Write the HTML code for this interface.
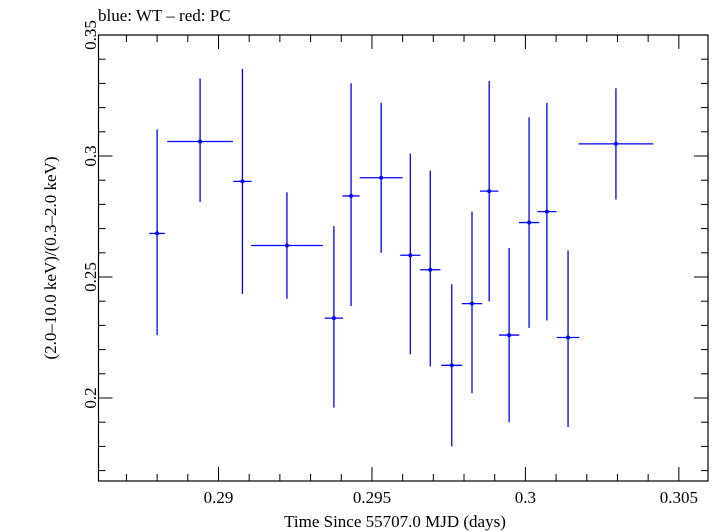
<!DOCTYPE html>
<html><head><meta charset="utf-8"><style>
body{margin:0;background:#fff;}
svg{display:block;font-family:"Liberation Serif",serif;}
</style></head><body>
<svg id="chart" width="717" height="532" viewBox="0 0 717 532">
<text x="98" y="21" font-size="17">blue: WT – red: PC</text>
<rect x="98.5" y="35" width="609.5" height="446" fill="none" stroke="#000" stroke-width="1.2"/>
<g id="ticks"></g>
<g id="marks"></g>
<text x="395" y="527" font-size="17" text-anchor="middle">Time Since 55707.0 MJD (days)</text>
<text transform="translate(56,258) rotate(-90)" font-size="17" text-anchor="middle">(2.0–10.0 keV)/(0.3–2.0 keV)</text>
</svg>
<script>
const times=[0.2880,0.2894,0.29078,0.29223,0.29376,0.29432,0.2953,0.29625,0.2969,0.2976,0.29826,0.29882,0.29947,0.30012,0.3007,0.30139,0.30295];
const timeErr=[0.00025,0.00107,0.0003,0.00117,0.0003,0.00028,0.0007,0.00033,0.00033,0.00034,0.00033,0.0003,0.00033,0.00033,0.00031,0.00037,0.00122];
const ratios=[0.268,0.306,0.2895,0.263,0.233,0.2835,0.291,0.259,0.253,0.2135,0.239,0.2855,0.226,0.2725,0.277,0.225,0.305];
const ratioLow=[0.226,0.281,0.243,0.241,0.196,0.238,0.260,0.218,0.213,0.180,0.202,0.240,0.190,0.229,0.232,0.188,0.282];
const ratioHigh=[0.311,0.332,0.336,0.285,0.271,0.330,0.322,0.301,0.294,0.247,0.277,0.331,0.262,0.316,0.322,0.261,0.328];
const xTickLabels=["0.29","0.295","0.3","0.305"];
const yTickLabels=["0.2","0.25","0.3","0.35"];
const X0=98.5,X1=708,Y0=481,Y1=35;
const xMin=0.28609,xMax=0.30595,yMin=0.1657,yMax=0.35;
function xs(v){return X0+(v-xMin)/(xMax-xMin)*(X1-X0);}
function ys(v){return Y0-(v-yMin)/(yMax-yMin)*(Y0-Y1);}
const NS="http://www.w3.org/2000/svg";
const tg=document.getElementById('ticks'),mg=document.getElementById('marks');
function ln(g,x1,y1,x2,y2,c,w){const l=document.createElementNS(NS,'line');l.setAttribute('x1',x1);l.setAttribute('y1',y1);l.setAttribute('x2',x2);l.setAttribute('y2',y2);l.setAttribute('stroke',c);l.setAttribute('stroke-width',w);g.appendChild(l);return l;}
for(let i=287;i<=305;i++){const v=i/1000;const x=xs(v);if(x<X0||x>X1)continue;const major=i%5===0;const L=major?14:7;
 let t=ln(tg,x,Y0,x,Y0-L,'#000',1);
 
 
 t=ln(tg,x,Y1,x,Y1+L,'#000',1);
 
 }
xTickLabels.forEach(s=>{const v=parseFloat(s);const t=document.createElementNS(NS,'text');t.setAttribute('x',xs(v));t.setAttribute('y',503);t.setAttribute('font-size','17');t.setAttribute('text-anchor','middle');t.textContent=s;
 
 
 tg.appendChild(t);});
for(let i=17;i<=35;i++){const v=i/100;const y=ys(v);if(y<Y1-0.5||y>Y0)continue;const major=i%5===0;const L=major?14:7;
 let t=ln(tg,X0,y,X0+L,y,'#000',1);
 
 
 t=ln(tg,X1,y,X1-L,y,'#000',1);
 
 }
yTickLabels.forEach(s=>{const v=parseFloat(s);const t=document.createElementNS(NS,'text');t.setAttribute('transform','translate(96,'+ys(v)+') rotate(-90)');t.setAttribute('font-size','17');t.setAttribute('text-anchor','middle');t.textContent=s;
 
 
 tg.appendChild(t);});
times.forEach((t,i)=>{const g=document.createElementNS(NS,'g');
 
 
 const x=xs(t),y=ys(ratios[i]);
 ln(g,xs(t-timeErr[i]),y,xs(t+timeErr[i]),y,'#0000ff',1.3);
 ln(g,x,ys(ratioLow[i]),x,ys(ratioHigh[i]),'#0000ff',1.3);
 const c=document.createElementNS(NS,'circle');c.setAttribute('cx',x);c.setAttribute('cy',y);c.setAttribute('r',2);c.setAttribute('fill','#0000ff');g.appendChild(c);
 mg.appendChild(g);});
</script>
</body></html>
